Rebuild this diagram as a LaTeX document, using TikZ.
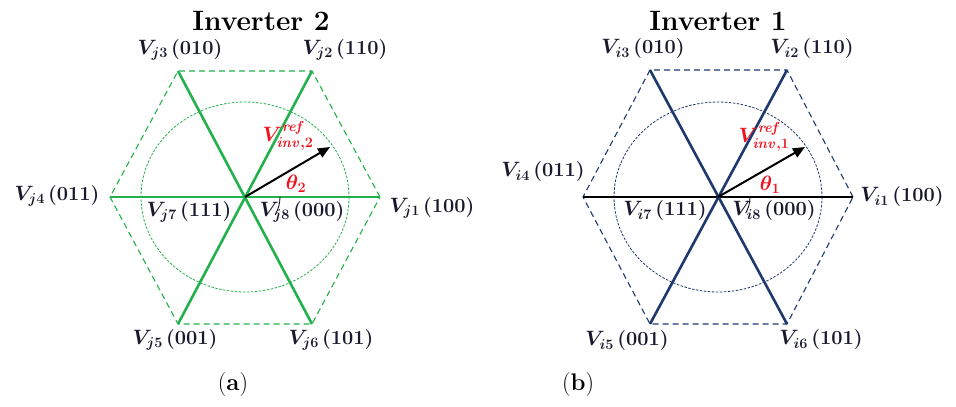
\documentclass[tikz,border=0pt]{standalone}
\usepackage{amsmath,bm}
\usetikzlibrary{arrows.meta}
\definecolor{grn}{RGB}{34,177,76}
\definecolor{nvy}{RGB}{31,56,110}
\definecolor{lbl}{RGB}{25,25,45}
\definecolor{redl}{RGB}{240,20,30}
\tikzset{
  spoke/.style={line width=2.6pt},
  hexd/.style={line width=1.1pt, dash pattern=on 6pt off 4pt},
  circd/.style={line width=0.8pt, dash pattern=on 2.5pt off 1.5pt},
  vlab/.style={text=lbl, font=\fontsize{20}{22}\selectfont\bfseries, inner sep=0pt},
  ttl/.style={font=\fontsize{28}{30}\selectfont\bfseries, inner sep=0pt},
  reflab/.style={text=redl, font=\fontsize{21}{23}\selectfont, inner sep=0pt},
  refarrow/.style={line width=2pt, -{Triangle[length=12pt,width=10pt]}},
  captxt/.style={font=\fontsize{24}{26}\selectfont, inner sep=0pt}
}
\newcommand{\vl}[2]{$\boldsymbol{V}_{\boldsymbol{#1}}$\,(#2)}
\begin{document}
\begin{tikzpicture}[x=1pt,y=-1pt]
\useasboundingbox (0,0) rectangle (956,407);
% ---------- Inverter 2 ----------
\coordinate (cL) at (245,197);
\coordinate (j1) at (380,197);
\coordinate (j2) at (312,71);
\coordinate (j3) at (178,71);
\coordinate (j4) at (110,197);
\coordinate (j5) at (178,324);
\coordinate (j6) at (312,324);
\draw[grn, hexd] (j1) -- (j2) -- (j3) -- (j4) -- (j5) -- (j6) -- cycle;
\draw[grn, circd] (cL) ellipse [x radius=104, y radius=95];
\draw[grn, spoke] (j1) -- (j4);
\draw[grn, spoke] (j2) -- (j5);
\draw[grn, spoke] (j3) -- (j6);
\coordinate (rL) at (330,147);
\draw[black, refarrow] (cL) -- (rL);
\draw[black, line width=0.8pt] (280,197) arc[start angle=0, end angle=30.5, radius=35];
\node[reflab] (thL) at (296,184) {$\boldsymbol{\theta_2}$};
\node[reflab] (refL) at (288,136) {$\boldsymbol{V}^{\boldsymbol{\mathit{ref}}}_{\boldsymbol{\mathit{inv},2}}$};
\node[ttl] (tL) at (261,21) {Inverter 2};
\node[vlab] (lj3) at (180,50) {\vl{j3}{010}};
\node[vlab] (lj2) at (345,50) {\vl{j2}{110}};
\node[vlab] (lj4) at (57,196) {\vl{j4}{011}};
\node[vlab] (lj1) at (432,208) {\vl{j1}{100}};
\node[vlab] (lj7) at (189,212) {\vl{j7}{111}};
\node[vlab] (lj8) at (302,212) {\vl{j8}{000}};
\node[vlab] (lj5) at (175,340) {\vl{j5}{001}};
\node[vlab] (lj6) at (331,340) {\vl{j6}{101}};
\node[captxt] (la) at (233,385) {(\textbf{a})};
% ---------- Inverter 1 ----------
\coordinate (cR) at (718,197);
\coordinate (i1) at (853,197);
\coordinate (i2) at (787,70);
\coordinate (i3) at (650,70);
\coordinate (i4) at (583,197);
\coordinate (i5) at (650,324);
\coordinate (i6) at (787,324);
\draw[nvy, hexd] (i1) -- (i2) -- (i3) -- (i4) -- (i5) -- (i6) -- cycle;
\draw[nvy, circd] (cR) ellipse [x radius=104, y radius=95];
\draw[black, spoke] (i1) -- (i4);
\draw[nvy, spoke] (i2) -- (i5);
\draw[nvy, spoke] (i3) -- (i6);
\coordinate (rR) at (805,147);
\draw[black, refarrow] (cR) -- (rR);
\draw[black, line width=0.8pt] (750,197) arc[start angle=0, end angle=30, radius=32];
\node[reflab] (thR) at (770,185) {$\boldsymbol{\theta_1}$};
\node[reflab] (refR) at (764,137) {$\boldsymbol{V}^{\boldsymbol{\mathit{ref}}}_{\boldsymbol{\mathit{inv},1}}$};
\node[ttl] (tR) at (718,21) {Inverter 1};
\node[vlab] (li3) at (643,49) {\vl{i3}{010}};
\node[vlab] (li2) at (812,49) {\vl{i2}{110}};
\node[vlab] (li4) at (543,172) {\vl{i4}{011}};
\node[vlab] (li1) at (902,197) {\vl{i1}{100}};
\node[vlab] (li7) at (665,211) {\vl{i7}{111}};
\node[vlab] (li8) at (774,211) {\vl{i8}{000}};
\node[vlab] (li5) at (627,341) {\vl{i5}{001}};
\node[vlab] (li6) at (821,340) {\vl{i6}{101}};
\node[captxt] (lb) at (578,385) {(\textbf{b})};
\end{tikzpicture}
\end{document}
